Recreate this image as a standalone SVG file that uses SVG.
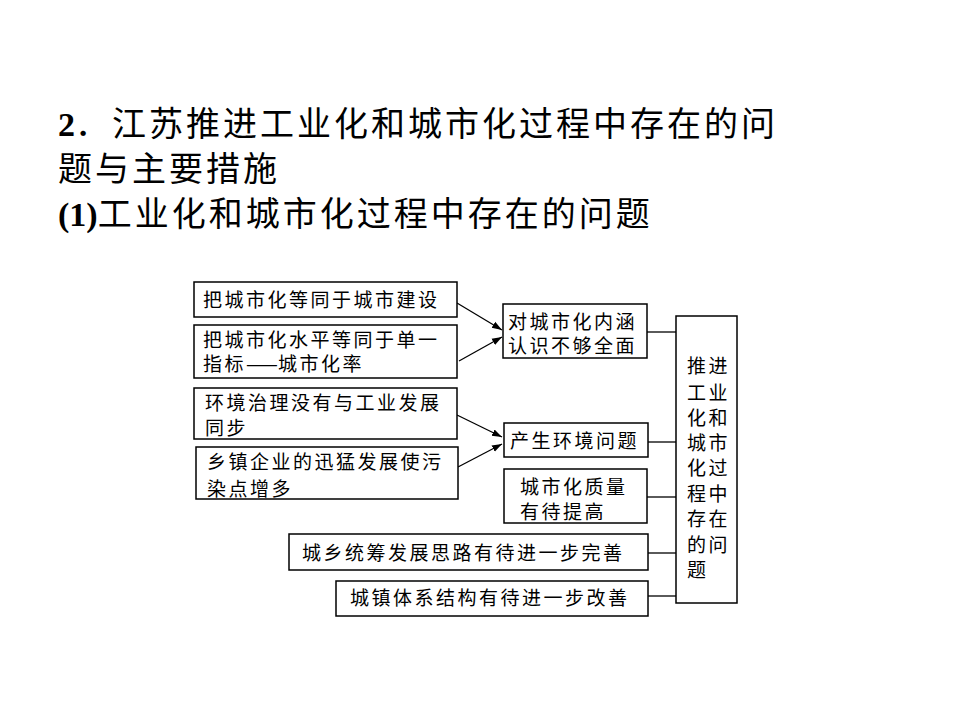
<svg xmlns="http://www.w3.org/2000/svg" width="960" height="720" viewBox="0 0 960 720">
<style>
.t{font-family:"Noto Sans CJK SC","Noto Sans",sans-serif;fill:#000}
.h{font-size:34px;letter-spacing:3px}
.n{font-family:"Liberation Serif",serif;font-weight:bold;letter-spacing:0}
.b{font-size:19px;letter-spacing:2.5px}
.box{fill:#fff;stroke:#000;stroke-width:1.5}
.ln{stroke:#000;stroke-width:1.3;fill:none}
</style>
<defs>
<marker id="ah" viewBox="0 0 10 10" refX="10" refY="5" markerWidth="10" markerHeight="10" markerUnits="userSpaceOnUse" orient="auto">
<path d="M0,1.5 L10,5 L0,8.5 Z" fill="#000"/>
</marker>
</defs>
<rect width="960" height="720" fill="#fff"/>
<g id="title">
<text class="t h" x="58" y="136"><tspan class="n">2</tspan>．江苏推进工业化和城市化过程中存在的问</text>
<text class="t h" x="58" y="181">题与主要措施</text>
<text class="t h" x="58" y="226"><tspan class="n">(1)</tspan>工业化和城市化过程中存在的问题</text>
</g>
<g id="connectors">
<line class="ln" x1="457" y1="303" x2="502" y2="330" marker-end="url(#ah)"/>
<line class="ln" x1="459" y1="361" x2="502" y2="337" marker-end="url(#ah)"/>
<line class="ln" x1="457" y1="415" x2="502" y2="437" marker-end="url(#ah)"/>
<line class="ln" x1="458" y1="467" x2="502" y2="444" marker-end="url(#ah)"/>
<line class="ln" x1="647" y1="332" x2="676" y2="332"/>
<line class="ln" x1="648" y1="442" x2="676" y2="442"/>
<line class="ln" x1="647" y1="497" x2="676" y2="497"/>
<line class="ln" x1="648" y1="553" x2="676" y2="553"/>
<line class="ln" x1="648" y1="596" x2="676" y2="596"/>
</g>
<g id="n1">
<rect class="box" x="194" y="282" width="263" height="35"/>
<text class="t b" x="203" y="307.2">把城市化等同于城市建设</text>
</g>
<g id="n2">
<rect class="box" x="194" y="325" width="263" height="53"/>
<text class="t b" x="203" y="346.5">把城市化水平等同于单一</text>
<text class="t b" x="203" y="371">指标<tspan letter-spacing="0">——</tspan>城市化率</text>
</g>
<g id="n3">
<rect class="box" x="194" y="388" width="263" height="51"/>
<text class="t b" x="205" y="410.2">环境治理没有与工业发展</text>
<text class="t b" x="205" y="434.7">同步</text>
</g>
<g id="n4">
<rect class="box" x="196" y="447" width="262" height="52"/>
<text class="t b" x="207" y="469.2">乡镇企业的迅猛发展使污</text>
<text class="t b" x="207" y="495.6">染点增多</text>
</g>
<g id="n5">
<rect class="box" x="503" y="304" width="144" height="54"/>
<text class="t b" x="508" y="328.5">对城市化内涵</text>
<text class="t b" x="508" y="353">认识不够全面</text>
</g>
<g id="n6">
<rect class="box" x="504" y="423" width="144" height="34"/>
<text class="t b" x="510" y="448.2">产生环境问题</text>
</g>
<g id="n7">
<rect class="box" x="504" y="469" width="143" height="54"/>
<text class="t b" x="520" y="494.2">城市化质量</text>
<text class="t b" x="520" y="519.2">有待提高</text>
</g>
<g id="n8">
<rect class="box" x="289" y="534" width="359" height="36"/>
<text class="t b" x="302" y="560.2">城乡统筹发展思路有待进一步完善</text>
</g>
<g id="n9">
<rect class="box" x="336" y="581" width="312" height="35"/>
<text class="t b" x="350" y="605.2">城镇体系结构有待进一步改善</text>
</g>
<g id="main">
<rect class="box" x="676" y="316" width="61" height="287"/>
<text class="t b" x="687" y="373.2">推进</text>
<text class="t b" x="687" y="400.2">工业</text>
<text class="t b" x="687" y="425.2">化和</text>
<text class="t b" x="687" y="450.2">城市</text>
<text class="t b" x="687" y="475.2">化过</text>
<text class="t b" x="687" y="501.2">程中</text>
<text class="t b" x="687" y="526.2">存在</text>
<text class="t b" x="687" y="552.2">的问</text>
<text class="t b" x="687" y="577.2">题</text>
</g>
</svg>
